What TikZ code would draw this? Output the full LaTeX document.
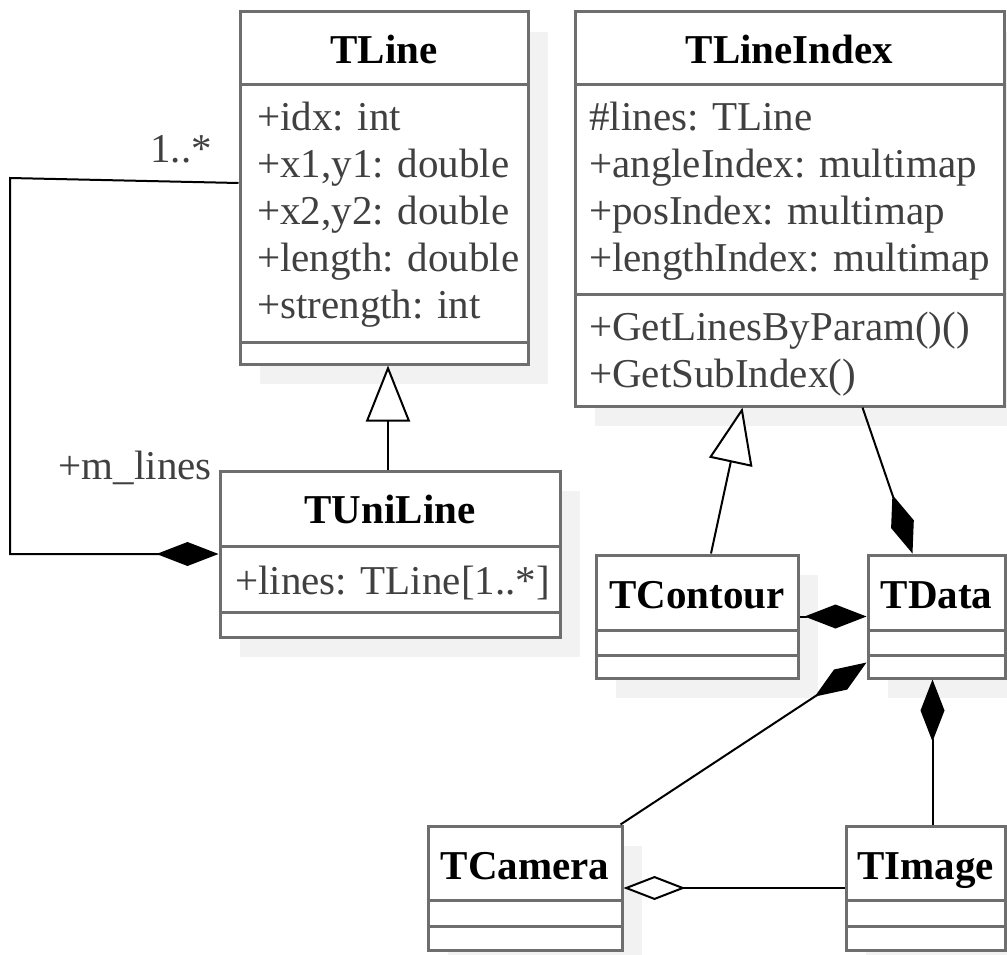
\documentclass[tikz,border=0pt]{standalone}
\usepackage{fontspec}
\setmainfont{Liberation Serif}
\usetikzlibrary{arrows.meta,shadows,calc}
\definecolor{boxc}{HTML}{6E6E6E}
\definecolor{shadowc}{HTML}{F2F2F2}
\definecolor{attrc}{HTML}{404040}
\begin{document}
\begin{tikzpicture}[x=1bp,y=-1bp,
  every node/.style={font=\fontsize{41bp}{47bp}\selectfont, inner sep=0pt},
  classbox/.style={draw=boxc, line width=3bp, fill=white, rectangle,
    general shadow={fill=shadowc, shadow xshift=20bp, shadow yshift=-20bp}},
  clstitle/.style={anchor=base, font=\fontsize{41bp}{47bp}\selectfont\bfseries, text=black},
  attr/.style={anchor=base west, text=attrc},
  divider/.style={draw=boxc, line width=3bp},
  conn/.style={draw=black, line width=2bp},
  compo/.style={conn, -{Diamond[length=62bp,width=24bp]}},
  aggr/.style={conn, -{Diamond[open,length=62bp,width=24bp,fill=white]}},
  gener/.style={conn, -{Triangle[open,length=56bp,width=44bp,fill=white]}},
]
\useasboundingbox (0,0) rectangle (1007,955);

% ---- TLine
\node[classbox, minimum width=288bp, minimum height=352bp] (tline) at (384,188) {};
\draw[divider] (tline.west |- 0,84) -- (tline.east |- 0,84);
\draw[divider] (tline.west |- 0,342) -- (tline.east |- 0,342);
\node[clstitle] (tlineT) at (tline.north |- 0,63) {TLine};
\node[attr] (tlA1) at (257,130) {+idx: int};
\node[attr] (tlA2) at (257,177) {+x1,y1: double};
\node[attr] (tlA3) at (257,224) {+x2,y2: double};
\node[attr] (tlA4) at (257,271) {+length: double};
\node[attr] (tlA5) at (257,318) {+strength: int};

% ---- TLineIndex
\node[classbox, minimum width=429bp, minimum height=394bp] (tlineindex) at (789.5,209) {};
\draw[divider] (tlineindex.west |- 0,84) -- (tlineindex.east |- 0,84);
\draw[divider] (tlineindex.west |- 0,294) -- (tlineindex.east |- 0,294);
\node[clstitle] (tliT) at (tlineindex.north |- 0,63) {TLineIndex};
\node[attr] (tiA1) at (589,130) {\#lines: TLine};
\node[attr] (tiA2) at (589,177) {+angleIndex: multimap};
\node[attr] (tiA3) at (589,224) {+posIndex: multimap};
\node[attr] (tiA4) at (589,271) {+lengthIndex: multimap};
\node[attr] (tiO1) at (589,340) {+GetLinesByParam()()};
\node[attr] (tiO2) at (589,387) {+GetSubIndex()};

% ---- TUniLine
\node[classbox, minimum width=340bp, minimum height=166bp] (tuniline) at (390,554) {};
\draw[divider] (tuniline.west |- 0,546) -- (tuniline.east |- 0,546);
\draw[divider] (tuniline.west |- 0,612) -- (tuniline.east |- 0,612);
\node[clstitle] (tuT) at (tuniline.north |- 0,523) {TUniLine};
\node[attr] (tuA1) at (235,594) {+lines: TLine[1..*]};

% ---- TContour
\node[classbox, minimum width=202bp, minimum height=123bp] (tcontour) at (697,616.5) {};
\draw[divider] (tcontour.west |- 0,630) -- (tcontour.east |- 0,630);
\draw[divider] (tcontour.west |- 0,655) -- (tcontour.east |- 0,655);
\node[clstitle] (tcT) at (tcontour.north |- 0,608) {TContour};

% ---- TData
\node[classbox, minimum width=137bp, minimum height=123bp] (tdata) at (936.5,616.5) {};
\draw[divider] (tdata.west |- 0,630) -- (tdata.east |- 0,630);
\draw[divider] (tdata.west |- 0,655) -- (tdata.east |- 0,655);
\node[clstitle] (tdT) at (tdata.north |- 0,608) {TData};

% ---- TCamera
\node[classbox, minimum width=194bp, minimum height=124bp] (tcamera) at (525,888) {};
\draw[divider] (tcamera.west |- 0,900) -- (tcamera.east |- 0,900);
\draw[divider] (tcamera.west |- 0,926) -- (tcamera.east |- 0,926);
\node[clstitle] (tcaT) at (tcamera.north |- 0,879) {TCamera};

% ---- TImage
\node[classbox, minimum width=159bp, minimum height=124bp] (timage) at (925.5,888) {};
\draw[divider] (timage.west |- 0,900) -- (timage.east |- 0,900);
\draw[divider] (timage.west |- 0,926) -- (timage.east |- 0,926);
\node[clstitle] (tiT) at (timage.north |- 0,879) {TImage};

% ---- connectors
\coordinate (g1) at ([xshift=4bp]tline.south);
\draw[gener] (tuniline.north -| g1) -- (g1);

\coordinate (c1) at (10,178);
\coordinate (c2) at (10,554);
\draw[compo] ([yshift=5bp]tline.west) -- (c1) -- (c2) -- (tuniline.west);
\node[anchor=base east, text=attrc] (mult) at (212,162) {1..*};
\node[anchor=base east, text=attrc] (role) at (212,479) {+m\_lines};

\draw[gener] ([xshift=14bp]tcontour.north) -- ([xshift=-47bp]tlineindex.south);
\draw[compo] ([xshift=73bp]tlineindex.south) -- ([xshift=-24bp]tdata.north);
\draw[compo] (tcontour.east) -- (tdata.west);
\draw[compo] ([xshift=-3bp]tcamera.north east) -- ([yshift=-46bp]tdata.west);
\coordinate (d1) at ([xshift=-4bp]tdata.south);
\draw[compo] (d1 |- timage.north) -- (d1);
\draw[aggr] (timage.west) -- (tcamera.east);
\end{tikzpicture}
\end{document}
